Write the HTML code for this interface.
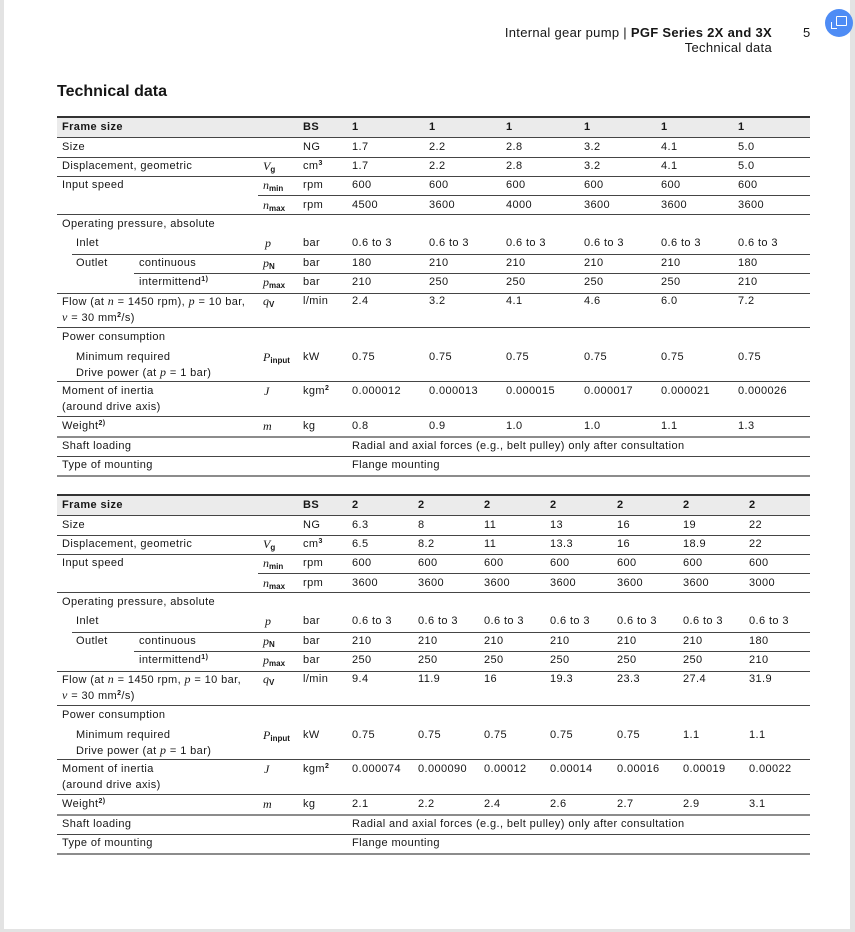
<!DOCTYPE html>
<html><head><meta charset="utf-8">
<style>
html,body{margin:0;padding:0;}
body{width:855px;height:932px;background:#e3e3e3;position:relative;overflow:hidden;font-family:"Liberation Sans",sans-serif;color:#161616;}
.page{position:absolute;left:4px;top:0;width:846px;height:929px;background:#fff;}
.a{position:absolute;white-space:nowrap;font-size:11px;line-height:14px;letter-spacing:0.4px;}
.b{font-weight:bold;}
.tbl{position:absolute;left:0;width:855px;height:370px;}
.ln{position:absolute;height:1px;background:#454545;right:45px;}
.lg{position:absolute;height:2px;background:#8c8c8c;right:45px;left:57px;}
.hd{position:absolute;left:57px;right:45px;top:2px;height:19px;background:#ebebeb;}
.sym{font-family:"Liberation Serif",serif;font-style:italic;font-size:12px;letter-spacing:0;}
.sub{font-family:"Liberation Sans",sans-serif;font-style:normal;font-size:8px;font-weight:bold;vertical-align:-2px;}
sup{font-size:7px;font-weight:bold;vertical-align:4px;line-height:0;}
.it{font-family:"Liberation Serif",serif;font-style:italic;font-size:12px;}
</style></head>
<body>
<div class="page"></div>
<div class="a" style="left:480px;top:25px;font-size:13px;line-height:16px;width:292px;text-align:right;letter-spacing:0.3px;">Internal gear pump | <b>PGF Series 2X and 3X</b></div>
<div class="a" style="left:600px;top:40px;font-size:13px;line-height:16px;width:172px;text-align:right;letter-spacing:0.3px;">Technical data</div>
<div class="a" style="left:803px;top:25px;font-size:13px;line-height:16px;">5</div>
<div style="position:absolute;left:825px;top:9px;width:28px;height:28px;border-radius:50%;background:#4e8cf5;"></div>
<div style="position:absolute;left:836px;top:16px;width:9px;height:8px;border:1.5px solid #fff;border-radius:1px;"></div>
<div style="position:absolute;left:831px;top:22px;width:5px;height:6px;border-left:1.5px solid #fff;border-bottom:1.5px solid #fff;"></div>
<div class="a b" style="left:57px;top:82px;font-size:16px;line-height:19px;letter-spacing:0;">Technical data</div>

<!-- TABLE 1 -->
<div class="tbl" style="top:116px;">
<div style="position:absolute;left:57px;right:45px;top:0;height:2px;background:#333;"></div>
<div class="hd"></div>
<div class="ln" style="left:57px;top:21px;"></div>
<div class="ln" style="left:57px;top:41px;"></div>
<div class="ln" style="left:57px;top:60px;"></div>
<div class="ln" style="left:258px;top:79px;"></div>
<div class="ln" style="left:57px;top:98px;"></div>
<div class="ln" style="left:72px;top:138px;"></div>
<div class="ln" style="left:134px;top:157px;"></div>
<div class="ln" style="left:57px;top:177px;"></div>
<div class="ln" style="left:57px;top:211px;"></div>
<div class="ln" style="left:57px;top:265px;"></div>
<div class="ln" style="left:57px;top:300px;"></div>
<div class="lg" style="top:320px;"></div>
<div class="ln" style="left:57px;top:340px;"></div>
<div class="lg" style="top:359px;"></div>

<div class="a b" style="left:62px;top:4px;">Frame size</div>
<div class="a b" style="left:303px;top:4px;">BS</div>
<div class="a b" style="left:352px;top:4px;">1</div><div class="a b" style="left:429px;top:4px;">1</div><div class="a b" style="left:506px;top:4px;">1</div><div class="a b" style="left:584px;top:4px;">1</div><div class="a b" style="left:661px;top:4px;">1</div><div class="a b" style="left:738px;top:4px;">1</div>

<div class="a" style="left:62px;top:24px;">Size</div>
<div class="a" style="left:303px;top:24px;">NG</div>
<div class="a" style="left:352px;top:24px;">1.7</div><div class="a" style="left:429px;top:24px;">2.2</div><div class="a" style="left:506px;top:24px;">2.8</div><div class="a" style="left:584px;top:24px;">3.2</div><div class="a" style="left:661px;top:24px;">4.1</div><div class="a" style="left:738px;top:24px;">5.0</div>

<div class="a" style="left:62px;top:43px;">Displacement, geometric</div>
<div class="a sym" style="left:263px;top:43px;">V<span class="sub">g</span></div>
<div class="a" style="left:303px;top:43px;">cm<sup>3</sup></div>
<div class="a" style="left:352px;top:43px;">1.7</div><div class="a" style="left:429px;top:43px;">2.2</div><div class="a" style="left:506px;top:43px;">2.8</div><div class="a" style="left:584px;top:43px;">3.2</div><div class="a" style="left:661px;top:43px;">4.1</div><div class="a" style="left:738px;top:43px;">5.0</div>

<div class="a" style="left:62px;top:62px;">Input speed</div>
<div class="a sym" style="left:263px;top:62px;">n<span class="sub">min</span></div>
<div class="a" style="left:303px;top:62px;">rpm</div>
<div class="a" style="left:352px;top:62px;">600</div><div class="a" style="left:429px;top:62px;">600</div><div class="a" style="left:506px;top:62px;">600</div><div class="a" style="left:584px;top:62px;">600</div><div class="a" style="left:661px;top:62px;">600</div><div class="a" style="left:738px;top:62px;">600</div>

<div class="a sym" style="left:263px;top:82px;">n<span class="sub">max</span></div>
<div class="a" style="left:303px;top:82px;">rpm</div>
<div class="a" style="left:352px;top:82px;">4500</div><div class="a" style="left:429px;top:82px;">3600</div><div class="a" style="left:506px;top:82px;">4000</div><div class="a" style="left:584px;top:82px;">3600</div><div class="a" style="left:661px;top:82px;">3600</div><div class="a" style="left:738px;top:82px;">3600</div>

<div class="a" style="left:62px;top:101px;">Operating pressure, absolute</div>

<div class="a" style="left:76px;top:120px;">Inlet</div>
<div class="a sym" style="left:265px;top:120px;">p</div>
<div class="a" style="left:303px;top:120px;">bar</div>
<div class="a" style="left:352px;top:120px;">0.6 to 3</div><div class="a" style="left:429px;top:120px;">0.6 to 3</div><div class="a" style="left:506px;top:120px;">0.6 to 3</div><div class="a" style="left:584px;top:120px;">0.6 to 3</div><div class="a" style="left:661px;top:120px;">0.6 to 3</div><div class="a" style="left:738px;top:120px;">0.6 to 3</div>

<div class="a" style="left:76px;top:140px;">Outlet</div>
<div class="a" style="left:139px;top:140px;">continuous</div>
<div class="a sym" style="left:263px;top:140px;">p<span class="sub">N</span></div>
<div class="a" style="left:303px;top:140px;">bar</div>
<div class="a" style="left:352px;top:140px;">180</div><div class="a" style="left:429px;top:140px;">210</div><div class="a" style="left:506px;top:140px;">210</div><div class="a" style="left:584px;top:140px;">210</div><div class="a" style="left:661px;top:140px;">210</div><div class="a" style="left:738px;top:140px;">180</div>

<div class="a" style="left:139px;top:159px;">intermittend<sup>1)</sup></div>
<div class="a sym" style="left:263px;top:159px;">p<span class="sub">max</span></div>
<div class="a" style="left:303px;top:159px;">bar</div>
<div class="a" style="left:352px;top:159px;">210</div><div class="a" style="left:429px;top:159px;">250</div><div class="a" style="left:506px;top:159px;">250</div><div class="a" style="left:584px;top:159px;">250</div><div class="a" style="left:661px;top:159px;">250</div><div class="a" style="left:738px;top:159px;">210</div>

<div class="a" style="left:62px;top:178px;">Flow (at <span class="it">n</span> = 1450 rpm), <span class="it">p</span> = 10 bar,</div>
<div class="a" style="left:62px;top:194px;"><span class="it">ν</span> = 30 mm<sup>2</sup>/s)</div>
<div class="a sym" style="left:263px;top:178px;">q<span class="sub">V</span></div>
<div class="a" style="left:303px;top:178px;">l/min</div>
<div class="a" style="left:352px;top:178px;">2.4</div><div class="a" style="left:429px;top:178px;">3.2</div><div class="a" style="left:506px;top:178px;">4.1</div><div class="a" style="left:584px;top:178px;">4.6</div><div class="a" style="left:661px;top:178px;">6.0</div><div class="a" style="left:738px;top:178px;">7.2</div>

<div class="a" style="left:62px;top:214px;">Power consumption</div>
<div class="a" style="left:76px;top:234px;">Minimum required</div>
<div class="a" style="left:76px;top:249px;">Drive power (at <span class="it">p</span> = 1 bar)</div>
<div class="a sym" style="left:263px;top:234px;">P<span class="sub">input</span></div>
<div class="a" style="left:303px;top:234px;">kW</div>
<div class="a" style="left:352px;top:234px;">0.75</div><div class="a" style="left:429px;top:234px;">0.75</div><div class="a" style="left:506px;top:234px;">0.75</div><div class="a" style="left:584px;top:234px;">0.75</div><div class="a" style="left:661px;top:234px;">0.75</div><div class="a" style="left:738px;top:234px;">0.75</div>

<div class="a" style="left:62px;top:268px;">Moment of inertia</div>
<div class="a" style="left:62px;top:284px;">(around drive axis)</div>
<div class="a sym" style="left:264px;top:268px;">J</div>
<div class="a" style="left:303px;top:268px;">kgm<sup>2</sup></div>
<div class="a" style="left:352px;top:268px;">0.000012</div><div class="a" style="left:429px;top:268px;">0.000013</div><div class="a" style="left:506px;top:268px;">0.000015</div><div class="a" style="left:584px;top:268px;">0.000017</div><div class="a" style="left:661px;top:268px;">0.000021</div><div class="a" style="left:738px;top:268px;">0.000026</div>

<div class="a" style="left:62px;top:303px;">Weight<sup>2)</sup></div>
<div class="a sym" style="left:263px;top:303px;">m</div>
<div class="a" style="left:303px;top:303px;">kg</div>
<div class="a" style="left:352px;top:303px;">0.8</div><div class="a" style="left:429px;top:303px;">0.9</div><div class="a" style="left:506px;top:303px;">1.0</div><div class="a" style="left:584px;top:303px;">1.0</div><div class="a" style="left:661px;top:303px;">1.1</div><div class="a" style="left:738px;top:303px;">1.3</div>

<div class="a" style="left:62px;top:323px;">Shaft loading</div>
<div class="a" style="left:352px;top:323px;">Radial and axial forces (e.g., belt pulley) only after consultation</div>
<div class="a" style="left:62px;top:342px;">Type of mounting</div>
<div class="a" style="left:352px;top:342px;">Flange mounting</div>
</div>

<!-- TABLE 2 -->
<div class="tbl" style="top:494px;">
<div style="position:absolute;left:57px;right:45px;top:0;height:2px;background:#333;"></div>
<div class="hd"></div>
<div class="ln" style="left:57px;top:21px;"></div>
<div class="ln" style="left:57px;top:41px;"></div>
<div class="ln" style="left:57px;top:60px;"></div>
<div class="ln" style="left:258px;top:79px;"></div>
<div class="ln" style="left:57px;top:98px;"></div>
<div class="ln" style="left:72px;top:138px;"></div>
<div class="ln" style="left:134px;top:157px;"></div>
<div class="ln" style="left:57px;top:177px;"></div>
<div class="ln" style="left:57px;top:211px;"></div>
<div class="ln" style="left:57px;top:265px;"></div>
<div class="ln" style="left:57px;top:300px;"></div>
<div class="lg" style="top:320px;"></div>
<div class="ln" style="left:57px;top:340px;"></div>
<div class="lg" style="top:359px;"></div>

<div class="a b" style="left:62px;top:4px;">Frame size</div>
<div class="a b" style="left:303px;top:4px;">BS</div>
<div class="a b" style="left:352px;top:4px;">2</div><div class="a b" style="left:418px;top:4px;">2</div><div class="a b" style="left:484px;top:4px;">2</div><div class="a b" style="left:550px;top:4px;">2</div><div class="a b" style="left:617px;top:4px;">2</div><div class="a b" style="left:683px;top:4px;">2</div><div class="a b" style="left:749px;top:4px;">2</div>

<div class="a" style="left:62px;top:24px;">Size</div>
<div class="a" style="left:303px;top:24px;">NG</div>
<div class="a" style="left:352px;top:24px;">6.3</div><div class="a" style="left:418px;top:24px;">8</div><div class="a" style="left:484px;top:24px;">11</div><div class="a" style="left:550px;top:24px;">13</div><div class="a" style="left:617px;top:24px;">16</div><div class="a" style="left:683px;top:24px;">19</div><div class="a" style="left:749px;top:24px;">22</div>

<div class="a" style="left:62px;top:43px;">Displacement, geometric</div>
<div class="a sym" style="left:263px;top:43px;">V<span class="sub">g</span></div>
<div class="a" style="left:303px;top:43px;">cm<sup>3</sup></div>
<div class="a" style="left:352px;top:43px;">6.5</div><div class="a" style="left:418px;top:43px;">8.2</div><div class="a" style="left:484px;top:43px;">11</div><div class="a" style="left:550px;top:43px;">13.3</div><div class="a" style="left:617px;top:43px;">16</div><div class="a" style="left:683px;top:43px;">18.9</div><div class="a" style="left:749px;top:43px;">22</div>

<div class="a" style="left:62px;top:62px;">Input speed</div>
<div class="a sym" style="left:263px;top:62px;">n<span class="sub">min</span></div>
<div class="a" style="left:303px;top:62px;">rpm</div>
<div class="a" style="left:352px;top:62px;">600</div><div class="a" style="left:418px;top:62px;">600</div><div class="a" style="left:484px;top:62px;">600</div><div class="a" style="left:550px;top:62px;">600</div><div class="a" style="left:617px;top:62px;">600</div><div class="a" style="left:683px;top:62px;">600</div><div class="a" style="left:749px;top:62px;">600</div>

<div class="a sym" style="left:263px;top:82px;">n<span class="sub">max</span></div>
<div class="a" style="left:303px;top:82px;">rpm</div>
<div class="a" style="left:352px;top:82px;">3600</div><div class="a" style="left:418px;top:82px;">3600</div><div class="a" style="left:484px;top:82px;">3600</div><div class="a" style="left:550px;top:82px;">3600</div><div class="a" style="left:617px;top:82px;">3600</div><div class="a" style="left:683px;top:82px;">3600</div><div class="a" style="left:749px;top:82px;">3000</div>

<div class="a" style="left:62px;top:101px;">Operating pressure, absolute</div>

<div class="a" style="left:76px;top:120px;">Inlet</div>
<div class="a sym" style="left:265px;top:120px;">p</div>
<div class="a" style="left:303px;top:120px;">bar</div>
<div class="a" style="left:352px;top:120px;">0.6 to 3</div><div class="a" style="left:418px;top:120px;">0.6 to 3</div><div class="a" style="left:484px;top:120px;">0.6 to 3</div><div class="a" style="left:550px;top:120px;">0.6 to 3</div><div class="a" style="left:617px;top:120px;">0.6 to 3</div><div class="a" style="left:683px;top:120px;">0.6 to 3</div><div class="a" style="left:749px;top:120px;">0.6 to 3</div>

<div class="a" style="left:76px;top:140px;">Outlet</div>
<div class="a" style="left:139px;top:140px;">continuous</div>
<div class="a sym" style="left:263px;top:140px;">p<span class="sub">N</span></div>
<div class="a" style="left:303px;top:140px;">bar</div>
<div class="a" style="left:352px;top:140px;">210</div><div class="a" style="left:418px;top:140px;">210</div><div class="a" style="left:484px;top:140px;">210</div><div class="a" style="left:550px;top:140px;">210</div><div class="a" style="left:617px;top:140px;">210</div><div class="a" style="left:683px;top:140px;">210</div><div class="a" style="left:749px;top:140px;">180</div>

<div class="a" style="left:139px;top:159px;">intermittend<sup>1)</sup></div>
<div class="a sym" style="left:263px;top:159px;">p<span class="sub">max</span></div>
<div class="a" style="left:303px;top:159px;">bar</div>
<div class="a" style="left:352px;top:159px;">250</div><div class="a" style="left:418px;top:159px;">250</div><div class="a" style="left:484px;top:159px;">250</div><div class="a" style="left:550px;top:159px;">250</div><div class="a" style="left:617px;top:159px;">250</div><div class="a" style="left:683px;top:159px;">250</div><div class="a" style="left:749px;top:159px;">210</div>

<div class="a" style="left:62px;top:178px;">Flow (at <span class="it">n</span> = 1450 rpm, <span class="it">p</span> = 10 bar,</div>
<div class="a" style="left:62px;top:194px;"><span class="it">ν</span> = 30 mm<sup>2</sup>/s)</div>
<div class="a sym" style="left:263px;top:178px;">q<span class="sub">V</span></div>
<div class="a" style="left:303px;top:178px;">l/min</div>
<div class="a" style="left:352px;top:178px;">9.4</div><div class="a" style="left:418px;top:178px;">11.9</div><div class="a" style="left:484px;top:178px;">16</div><div class="a" style="left:550px;top:178px;">19.3</div><div class="a" style="left:617px;top:178px;">23.3</div><div class="a" style="left:683px;top:178px;">27.4</div><div class="a" style="left:749px;top:178px;">31.9</div>

<div class="a" style="left:62px;top:214px;">Power consumption</div>
<div class="a" style="left:76px;top:234px;">Minimum required</div>
<div class="a" style="left:76px;top:249px;">Drive power (at <span class="it">p</span> = 1 bar)</div>
<div class="a sym" style="left:263px;top:234px;">P<span class="sub">input</span></div>
<div class="a" style="left:303px;top:234px;">kW</div>
<div class="a" style="left:352px;top:234px;">0.75</div><div class="a" style="left:418px;top:234px;">0.75</div><div class="a" style="left:484px;top:234px;">0.75</div><div class="a" style="left:550px;top:234px;">0.75</div><div class="a" style="left:617px;top:234px;">0.75</div><div class="a" style="left:683px;top:234px;">1.1</div><div class="a" style="left:749px;top:234px;">1.1</div>

<div class="a" style="left:62px;top:268px;">Moment of inertia</div>
<div class="a" style="left:62px;top:284px;">(around drive axis)</div>
<div class="a sym" style="left:264px;top:268px;">J</div>
<div class="a" style="left:303px;top:268px;">kgm<sup>2</sup></div>
<div class="a" style="left:352px;top:268px;">0.000074</div><div class="a" style="left:418px;top:268px;">0.000090</div><div class="a" style="left:484px;top:268px;">0.00012</div><div class="a" style="left:550px;top:268px;">0.00014</div><div class="a" style="left:617px;top:268px;">0.00016</div><div class="a" style="left:683px;top:268px;">0.00019</div><div class="a" style="left:749px;top:268px;">0.00022</div>

<div class="a" style="left:62px;top:303px;">Weight<sup>2)</sup></div>
<div class="a sym" style="left:263px;top:303px;">m</div>
<div class="a" style="left:303px;top:303px;">kg</div>
<div class="a" style="left:352px;top:303px;">2.1</div><div class="a" style="left:418px;top:303px;">2.2</div><div class="a" style="left:484px;top:303px;">2.4</div><div class="a" style="left:550px;top:303px;">2.6</div><div class="a" style="left:617px;top:303px;">2.7</div><div class="a" style="left:683px;top:303px;">2.9</div><div class="a" style="left:749px;top:303px;">3.1</div>

<div class="a" style="left:62px;top:323px;">Shaft loading</div>
<div class="a" style="left:352px;top:323px;">Radial and axial forces (e.g., belt pulley) only after consultation</div>
<div class="a" style="left:62px;top:342px;">Type of mounting</div>
<div class="a" style="left:352px;top:342px;">Flange mounting</div>
</div>
</body></html>
